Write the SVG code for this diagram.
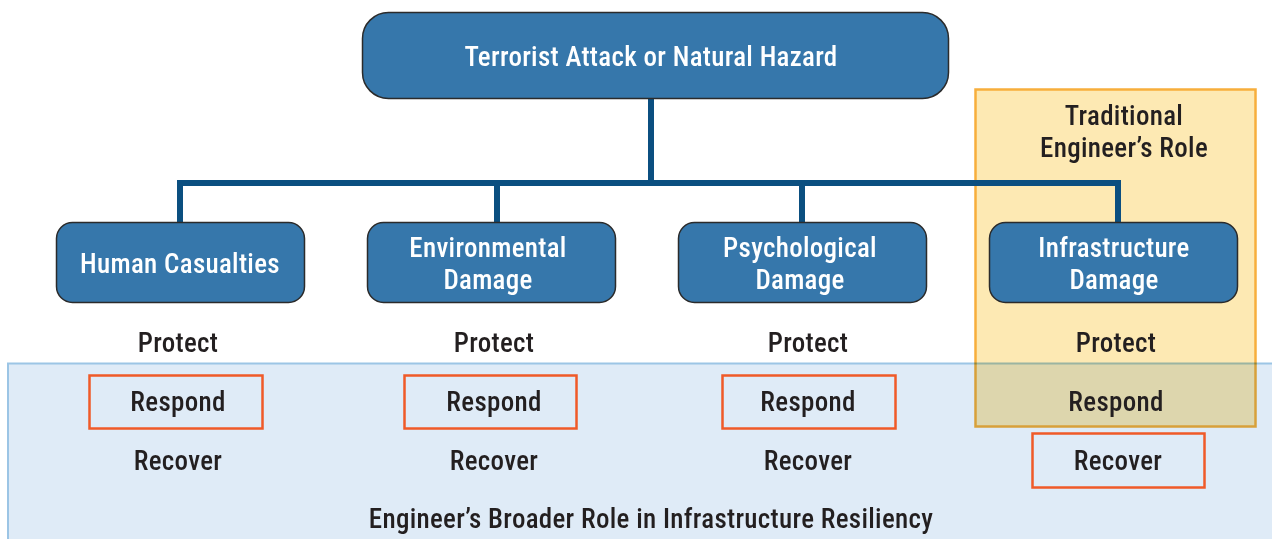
<svg xmlns="http://www.w3.org/2000/svg" width="1272" height="539" viewBox="0 0 1272 539">
<style>
text{font-family:"Liberation Sans Narrow","Roboto Condensed","Liberation Sans",Arial,sans-serif;font-size:27px;font-weight:500;letter-spacing:0.3px;text-anchor:middle}
.node rect{fill:#3677ab;stroke:#2b2b2b;stroke-width:1.5}
.node text{fill:#ffffff}
.lbl{fill:#231f20}
.red{fill:none;stroke:#f05a28;stroke-width:2.5}
.conn{fill:none;stroke:#0b4f80;stroke-width:6}
</style>
<rect width="1272" height="539" fill="#ffffff"/>
<g id="broader-role">
<rect x="8" y="363.5" width="1270" height="180" fill="#dfebf7" stroke="#9cc5e5" stroke-width="2"/>
<text class="lbl" x="651" y="528">Engineer’s Broader Role in Infrastructure Resiliency</text>
</g>
<g id="traditional-role">
<rect x="975.5" y="89.5" width="280" height="337" fill="#fde9b3" stroke="#f7ae3c" stroke-width="2.5" style="mix-blend-mode:multiply"/>
<text class="lbl" x="1124" y="125">Traditional</text>
<text class="lbl" x="1124" y="157">Engineer’s Role</text>
</g>
<g id="connectors">
<path class="conn" d="M651 98V183M180 225V183H1118V225M497 183V225M802 183V225"/>
</g>
<g id="hazard" class="node">
<rect x="362.5" y="12.5" width="586" height="86" rx="26"/>
<text x="651" y="66">Terrorist Attack or Natural Hazard</text>
</g>
<g id="human" class="node">
<rect x="56.5" y="222.5" width="248" height="80" rx="16"/>
<text x="180" y="273">Human Casualties</text>
</g>
<g id="environmental" class="node">
<rect x="367.5" y="222.5" width="248" height="80" rx="16"/>
<text x="488" y="257">Environmental</text>
<text x="488" y="289">Damage</text>
</g>
<g id="psychological" class="node">
<rect x="678.5" y="222.5" width="248" height="80" rx="16"/>
<text x="800" y="257">Psychological</text>
<text x="800" y="289">Damage</text>
</g>
<g id="infrastructure" class="node">
<rect x="989.5" y="222.5" width="248" height="80" rx="16"/>
<text x="1114" y="257">Infrastructure</text>
<text x="1114" y="289">Damage</text>
</g>
<g id="phases">
<text class="lbl" x="178" y="352">Protect</text>
<text class="lbl" x="494" y="352">Protect</text>
<text class="lbl" x="808" y="352">Protect</text>
<text class="lbl" x="1116" y="352">Protect</text>
<rect class="red" x="89.5" y="375.5" width="173" height="53"/>
<rect class="red" x="404.5" y="375.5" width="172" height="53"/>
<rect class="red" x="722.5" y="375.5" width="173" height="53"/>
<text class="lbl" x="178" y="411">Respond</text>
<text class="lbl" x="494" y="411">Respond</text>
<text class="lbl" x="808" y="411">Respond</text>
<text class="lbl" x="1116" y="411">Respond</text>
<rect class="red" x="1032.5" y="433.5" width="172" height="54"/>
<text class="lbl" x="178" y="470">Recover</text>
<text class="lbl" x="494" y="470">Recover</text>
<text class="lbl" x="808" y="470">Recover</text>
<text class="lbl" x="1118" y="470">Recover</text>
</g>
</svg>
